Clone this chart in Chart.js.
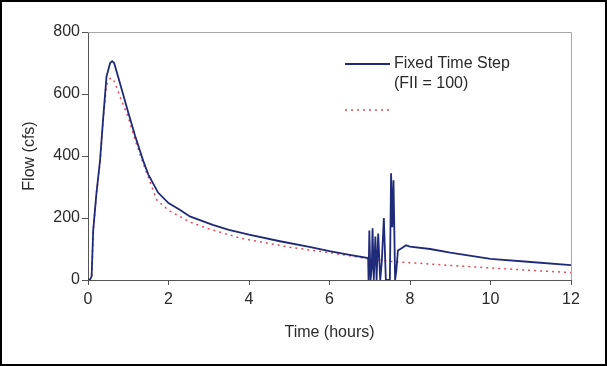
<!DOCTYPE html>
<html>
<head>
  <title>Flow hydrograph</title>
  <script src="https://cdn.jsdelivr.net/npm/chart.js@4/dist/chart.umd.min.js"></script>
  <style>
    body { margin: 0; background: #fff; }
    #wrap { width: 607px; height: 366px; }
  </style>
</head>
<body>
  <div id="wrap"><canvas id="myChart" width="607" height="366"></canvas></div>
  <script>
    // data
    var fixedTime = [0, 0.05, 0.09, 0.13, 0.21, 0.3, 0.38, 0.46, 0.55, 0.6, 0.65, 0.75, 0.87, 1.0, 1.17, 1.37, 1.5, 1.74, 2.0, 2.29, 2.53, 3.1, 3.5, 4.0, 4.77, 5.5, 6.0, 6.5, 6.96,
      6.97, 6.99, 7.02, 7.05, 7.07, 7.10, 7.14, 7.17, 7.21, 7.26, 7.30, 7.35, 7.40, 7.45, 7.50, 7.53, 7.56, 7.59, 7.63, 7.66, 7.70, 7.76, 7.82, 7.9, 8.0, 8.5, 9.0, 10, 11, 12];
    var fixedFlow = [0, 2, 11, 161, 280, 387, 527, 656, 700, 706, 700, 655, 600, 540, 465, 385, 340, 282, 248, 226, 205, 178, 162, 146, 125, 107, 93, 81, 71,
      0, 160, 0, 40, 167, 0, 140, 0, 150, 0, 60, 200, 0, 0, 0, 344, 170, 322, 0, 30, 95, 100, 105, 112, 108, 100, 88, 68, 58, 48];

    var otherTime = [0, 0.05, 0.09, 0.13, 0.21, 0.3, 0.38, 0.46, 0.55, 0.62, 0.7, 0.8, 1.0, 1.2, 1.4, 1.71, 2.0, 2.53, 3.0, 3.78, 4.5, 5.0, 6.0, 6.5, 7.0, 7.5, 8.0, 9.0, 10, 11, 12];
    var otherFlow = [0, 2, 10, 160, 275, 380, 520, 630, 650, 650, 625, 590, 525, 440, 365, 258, 225, 187, 165, 135, 118, 106, 88, 78, 68, 60, 56, 47, 39, 31, 24];

    var xTicks = [0, 2, 4, 6, 8, 10, 12];
    var yTicks = [0, 200, 400, 600, 800];

    function toPoints(xs, ys) {
      return xs.map(function(x, i) { return { x: x, y: ys[i] }; });
    }

    var FONT = { family: "'Liberation Sans', Arial, sans-serif", size: 16 };
    var TEXT = '#2a2a2a';

    // white background, black frame, grey plot border and legend
    var framePlugin = {
      id: 'frame',
      beforeDraw: function(chart) {
        var c = chart.ctx;
        c.save();
        c.fillStyle = '#fff';
        c.fillRect(0, 0, chart.width, chart.height);
        c.strokeStyle = '#000';
        c.lineWidth = 2;
        c.strokeRect(1, 1, chart.width - 2, chart.height - 2);
        c.restore();
      },
      afterDraw: function(chart) {
        var a = chart.chartArea;
        var c = chart.ctx;
        c.save();
        c.strokeStyle = '#a8a8a8';
        c.lineWidth = 1;
        c.beginPath();
        c.moveTo(a.left, a.top + 0.5);
        c.lineTo(a.right + 0.5, a.top + 0.5);
        c.lineTo(a.right + 0.5, a.bottom);
        c.stroke();

        // legend
        c.strokeStyle = '#1f2a78';
        c.lineWidth = 1.8;
        c.beginPath();
        c.moveTo(345, 64);
        c.lineTo(390, 64);
        c.stroke();
        c.strokeStyle = '#e0485a';
        c.lineWidth = 1.5;
        c.setLineDash([2, 4]);
        c.beginPath();
        c.moveTo(345, 110);
        c.lineTo(390, 110);
        c.stroke();
        c.setLineDash([]);
        c.fillStyle = TEXT;
        c.font = FONT.size + 'px ' + FONT.family;
        c.textBaseline = 'middle';
        c.fillText('Fixed Time Step', 394, 64);
        c.fillText('(FII = 100)', 394, 84);
        c.restore();
      }
    };

    var ctx = document.getElementById('myChart').getContext('2d');
    var myChart = new Chart(ctx, {
      type: 'line',
      data: {
        datasets: [{
          label: 'Fixed Time Step (FII = 100)',
          data: toPoints(fixedTime, fixedFlow),
          borderColor: '#1f2a78',
          borderWidth: 1.8,
          pointRadius: 0,
          tension: 0,
          order: 1
        }, {
          label: '',
          data: toPoints(otherTime, otherFlow),
          borderColor: '#e0485a',
          borderWidth: 1.5,
          borderDash: [2, 4],
          pointRadius: 0,
          tension: 0,
          order: 2
        }]
      },
      options: {
        responsive: false,
        animation: false,
        layout: { padding: { left: 16, right: 36, top: 32, bottom: 20 } },
        plugins: {
          legend: { display: false },
          tooltip: { enabled: false }
        },
        scales: {
          x: {
            type: 'linear',
            min: 0,
            max: 12,
            afterBuildTicks: function(scale) {
              scale.ticks = xTicks.map(function(v) { return { value: v }; });
            },
            afterFit: function(scale) { scale.height = 66; },
            grid: { drawOnChartArea: false, drawTicks: true, tickLength: 5, color: '#555' },
            border: { color: '#555', width: 1 },
            ticks: { font: FONT, color: TEXT, padding: 5, maxRotation: 0 },
            title: { display: true, text: 'Time (hours)', font: FONT, color: TEXT, padding: 4 }
          },
          y: {
            min: 0,
            max: 800,
            afterBuildTicks: function(scale) {
              scale.ticks = yTicks.map(function(v) { return { value: v }; });
            },
            afterFit: function(scale) { scale.width = 72; },
            grid: { drawOnChartArea: false, drawTicks: true, tickLength: 6, color: '#555' },
            border: { color: '#555', width: 1 },
            ticks: { font: FONT, color: TEXT, padding: 2 },
            title: { display: true, text: 'Flow (cfs)', font: FONT, color: TEXT, padding: 4 }
          }
        }
      },
      plugins: [framePlugin]
    });
  </script>
</body>
</html>
